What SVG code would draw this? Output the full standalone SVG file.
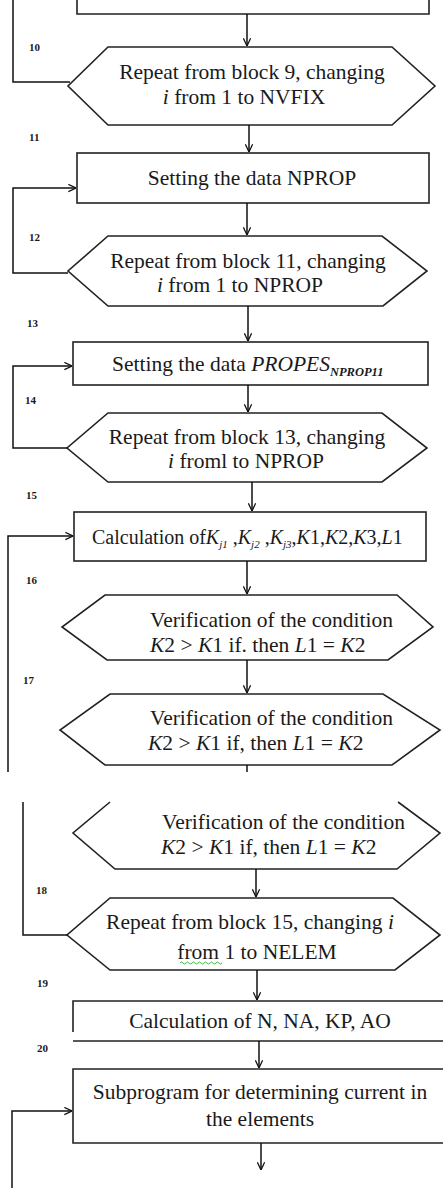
<svg xmlns="http://www.w3.org/2000/svg" width="443" height="1188" viewBox="0 0 443 1188">
<style>
.shape{fill:#fff;stroke:#222;stroke-width:1.6}
.open{fill:none;stroke:#222;stroke-width:1.6}
.conn{fill:none;stroke:#111;stroke-width:1.5}
.t{font-family:"Liberation Serif",serif;font-size:21.5px;fill:#1a1a1a}
.m{text-anchor:middle}
.i{font-style:italic}
.sub{font-size:11px;font-style:italic}
.subb{font-size:12.5px;font-style:italic;font-weight:bold}
.lbl{font-family:"Liberation Serif",serif;font-size:11px;font-weight:bold;fill:#1a1a1a}
</style>
<defs>
<marker id="ah" viewBox="0 0 10 10" refX="9.5" refY="5" markerWidth="9" markerHeight="9" markerUnits="userSpaceOnUse" orient="auto">
<path d="M1,1 L9.5,5 L1,9" fill="none" stroke="#111" stroke-width="1.4"/>
</marker>
</defs>
<rect width="443" height="1188" fill="#fff"/>

<g id="block9"><path class="open" d="M77,0 V14 H429 V0"/></g>

<g id="block10">
<polygon class="shape" points="108,47 392,47 435,86 392,125 108,125 68,86"/>
<text class="t m" x="252" y="79">Repeat from block 9, changing</text>
<text class="t m" x="244" y="104"><tspan class="i">i</tspan> from 1 to NVFIX</text>
</g>

<g id="block11">
<rect class="shape" x="77" y="153" width="352" height="50"/>
<text class="t m" x="252" y="185">Setting the data NPROP</text>
</g>

<g id="block12">
<polygon class="shape" points="108,236 382,236 427,271 383,306 108,306 68,271"/>
<text class="t m" x="248" y="268">Repeat from block 11, changing</text>
<text class="t m" x="240" y="292"><tspan class="i">i</tspan> from 1 to NPROP</text>
</g>

<g id="block13">
<rect class="shape" x="73" y="342" width="355" height="43"/>
<text class="t" x="112" y="371">Setting the data <tspan class="i">PROPES</tspan><tspan class="subb" dy="5">NPROP11</tspan></text>
</g>

<g id="block14">
<polygon class="shape" points="108,413 382,413 427,448 382,482 108,482 67,448"/>
<text class="t m" x="247" y="444">Repeat from block 13, changing</text>
<text class="t m" x="246" y="468"><tspan class="i">i</tspan> froml to NPROP</text>
</g>

<g id="block15">
<rect class="shape" x="74" y="512" width="352" height="49"/>
<text class="t" x="92" y="544" style="font-size:20px">Calculation  of<tspan class="i">K</tspan><tspan class="sub" dy="4">j1</tspan><tspan dy="-4"> ,</tspan><tspan class="i">K</tspan><tspan class="sub" dy="4">j2</tspan><tspan dy="-4"> ,</tspan><tspan class="i">K</tspan><tspan class="sub" dy="4">j3</tspan><tspan dy="-4">,</tspan><tspan class="i">K</tspan>1,<tspan class="i">K</tspan>2,<tspan class="i">K</tspan>3,<tspan class="i">L</tspan>1</text>
</g>

<g id="block16">
<polygon class="shape" points="105,595 397,595 433,627 388,660 107,660 62,627"/>
<text class="t" x="150" y="627">Verification of the condition</text>
<text class="t" x="150" y="652"><tspan class="i">K</tspan>2 &gt; <tspan class="i">K</tspan>1 if. then <tspan class="i">L</tspan>1 = <tspan class="i">K</tspan>2</text>
</g>

<g id="block17">
<polygon class="shape" points="110,694 383,694 440,730 392,765 105,765 60,730"/>
<text class="t" x="150" y="725">Verification of the condition</text>
<text class="t" x="148" y="750"><tspan class="i">K</tspan>2 &gt; <tspan class="i">K</tspan>1 if, then <tspan class="i">L</tspan>1 = <tspan class="i">K</tspan>2</text>
</g>

<g id="block17b">
<path class="open" d="M110,802 L73,833 L115,869 H397 L440,833 L398,802"/>
<text class="t" x="162" y="829">Verification of the condition</text>
<text class="t" x="161" y="854"><tspan class="i">K</tspan>2 &gt; <tspan class="i">K</tspan>1 if, then <tspan class="i">L</tspan>1 = <tspan class="i">K</tspan>2</text>
</g>

<g id="block18">
<polygon class="shape" points="110,898 393,898 440,935 395,970 110,970 67,935"/>
<text class="t m" x="250" y="929">Repeat from block 15, changing  <tspan class="i">i</tspan></text>
<text class="t m" x="257" y="959">from 1 to NELEM</text>
<path d="M180,963 q1.5,-2 3,0 t3,0 t3,0 t3,0 t3,0 t3,0 t3,0 t3,0 t3,0 t3,0 t3,0 t3,0 t3,0 t3,0" fill="none" stroke="#3a3" stroke-width="0.9"/>
</g>

<g id="block19">
<path class="open" d="M73,1032 V1001 H443 M73,1041 H443"/>
<text class="t m" x="260" y="1028">Calculation of N, NA, KP, AO</text>
</g>

<g id="block20">
<path class="open" d="M443,1069 H73 V1143 H443"/>
<text class="t m" x="260" y="1099">Subprogram for determining current in</text>
<text class="t m" x="260" y="1126">the elements</text>
</g>

<g id="labels">
<text class="lbl" x="29" y="51">10</text>
<text class="lbl" x="29" y="141">11</text>
<text class="lbl" x="29" y="241">12</text>
<text class="lbl" x="27" y="327">13</text>
<text class="lbl" x="25" y="404">14</text>
<text class="lbl" x="26" y="499">15</text>
<text class="lbl" x="26" y="584">16</text>
<text class="lbl" x="23" y="684">17</text>
<text class="lbl" x="36" y="894">18</text>
<text class="lbl" x="37" y="987">19</text>
<text class="lbl" x="37" y="1052">20</text>
</g>

<g id="connectors">
<path class="conn" marker-end="url(#ah)" d="M247,14 V46"/>
<path class="conn" marker-end="url(#ah)" d="M249,125 V152"/>
<path class="conn" marker-end="url(#ah)" d="M247,203 V235"/>
<path class="conn" marker-end="url(#ah)" d="M248,306 V341"/>
<path class="conn" marker-end="url(#ah)" d="M248,385 V412"/>
<path class="conn" marker-end="url(#ah)" d="M252,482 V511"/>
<path class="conn" marker-end="url(#ah)" d="M247,561 V594"/>
<path class="conn" marker-end="url(#ah)" d="M247,660 V693"/>
<path class="conn" d="M247,765 V772"/>
<path class="conn" marker-end="url(#ah)" d="M256,869 V897"/>
<path class="conn" marker-end="url(#ah)" d="M257,970 V1000"/>
<path class="conn" marker-end="url(#ah)" d="M259,1041 V1068"/>
<path class="conn" marker-end="url(#ah)" d="M261,1143 V1170"/>
<path class="conn" d="M70,82 H13 V0"/>
<path class="conn" marker-end="url(#ah)" d="M68,273 H13 V188 H76"/>
<path class="conn" marker-end="url(#ah)" d="M67,448 H13 V366 H72"/>
<path class="conn" marker-end="url(#ah)" d="M8,772 V536 H73"/>
<path class="conn" d="M23,802 V935 H68"/>
<path class="conn" marker-end="url(#ah)" d="M12,1188 V1111 H72"/>
</g>
</svg>
